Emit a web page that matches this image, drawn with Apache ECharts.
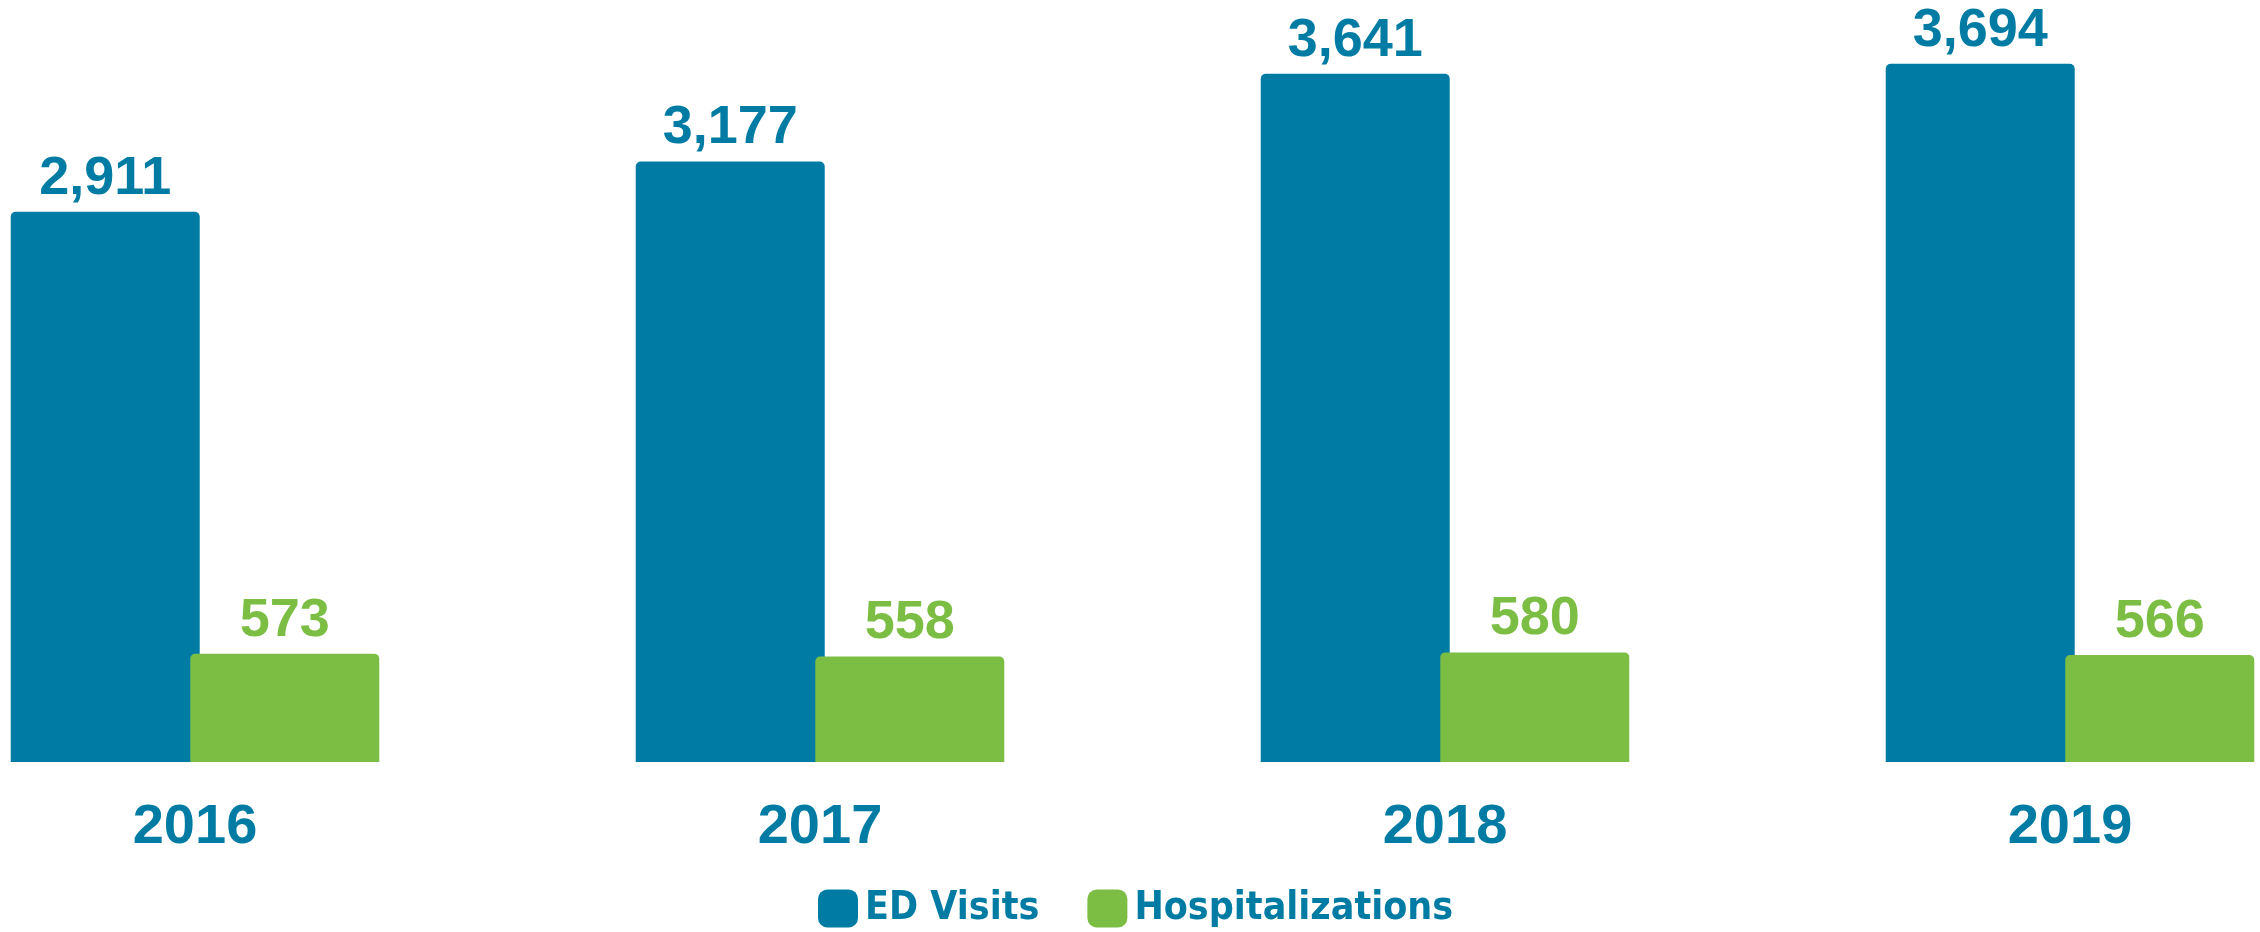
<!DOCTYPE html>
<html>
<head>
<meta charset="utf-8">
<script src="https://cdn.jsdelivr.net/npm/echarts@6/dist/echarts.min.js"></script>
<style>
  html, body { margin: 0; padding: 0; background: #fff; }
  #main { width: 2260px; height: 932px; }
</style>
</head>
<body>
<div id="main"></div>
<script>
// data
var years = ['2016', '2017', '2018', '2019'];
var edVisits = [2911, 3177, 3641, 3694];
var hospitalizations = [573, 558, 580, 566];

var BLUE = '#007ca4';
var GREEN = '#7bbe43';
var LABEL_FONT = '"Liberation Sans", Arial, sans-serif';

var chart = echarts.init(document.getElementById('main'));

function valueLabel(color) {
    return {
        show: true,
        position: 'top',
        distance: 6,
        color: color,
        fontFamily: LABEL_FONT,
        fontWeight: 'bold',
        fontSize: 54,
        formatter: function (p) { return p.value.toLocaleString('en-US'); }
    };
}

chart.setOption({
    animation: false,
    // group centres sit on the ticks, bars overflow the grid on both sides
    grid: { left: 195, right: 190, top: 6, bottom: 170 },
    legend: {
        left: 813,
        top: 884,
        itemWidth: 40,
        itemHeight: 38,
        itemGap: 48,
        icon: 'roundRect',
        textStyle: {
            color: BLUE,
            fontFamily: '"DejaVu Sans Condensed", sans-serif',
            fontWeight: 'bold',
            fontSize: 39,
            padding: [0, 0, 0, 2]
        },
        data: ['ED Visits', 'Hospitalizations']
    },
    xAxis: {
        type: 'category',
        data: years,
        boundaryGap: false,
        axisLine: { show: false },
        axisTick: { show: false },
        axisLabel: {
            margin: 38,
            color: BLUE,
            fontFamily: LABEL_FONT,
            fontWeight: 'bold',
            fontSize: 56
        }
    },
    yAxis: {
        type: 'value',
        min: 0,
        max: 4000,
        show: false,
        splitLine: { show: false }
    },
    series: [
        {
            name: 'ED Visits',
            type: 'bar',
            data: edVisits,
            clip: false,
            barWidth: 189,
            barGap: '-5%',
            itemStyle: { color: BLUE, borderRadius: [5, 5, 0, 0] },
            label: valueLabel(BLUE)
        },
        {
            name: 'Hospitalizations',
            type: 'bar',
            data: hospitalizations,
            clip: false,
            barWidth: 189,
            itemStyle: { color: GREEN, borderRadius: [5, 5, 0, 0] },
            label: valueLabel(GREEN)
        }
    ]
});
</script>
</body>
</html>
